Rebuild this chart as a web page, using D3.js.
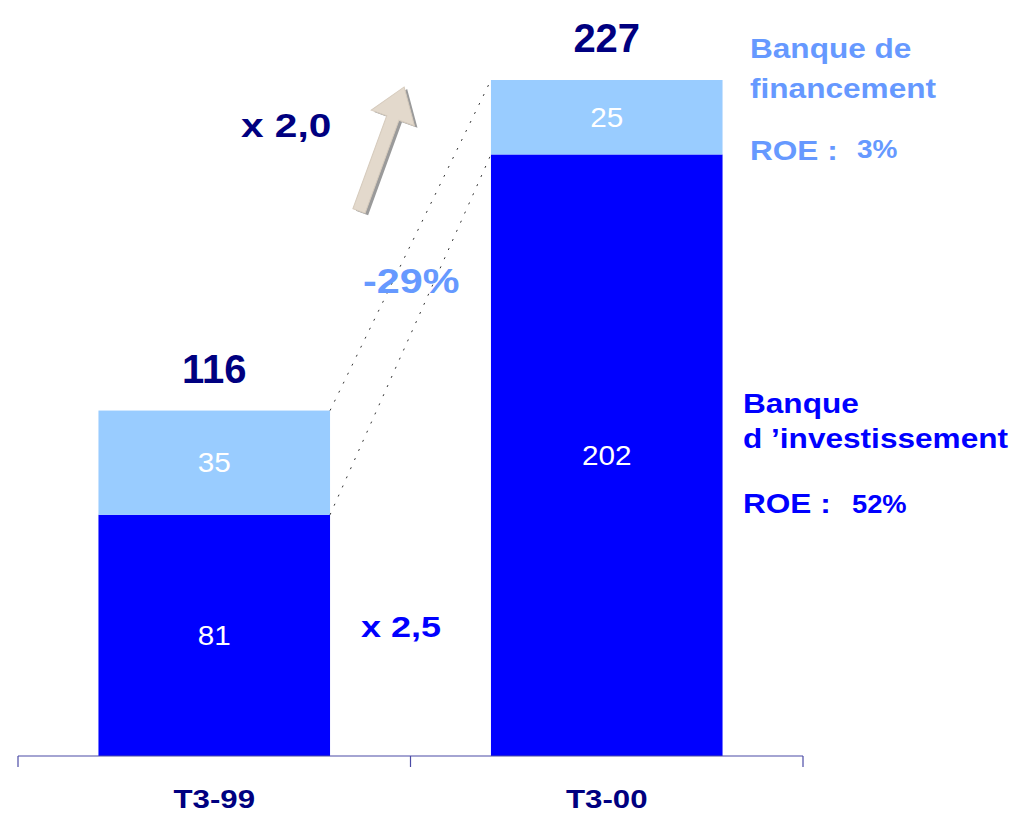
<!DOCTYPE html>
<html>
<head>
<meta charset="utf-8">
<script src="https://cdn.jsdelivr.net/npm/d3@7"></script>
<style>
  body { margin: 0; background: #fff; }
  svg { display: block; font-family: "Liberation Sans", Arial, sans-serif; }
</style>
</head>
<body>
<div id="chart"></div>
<script>
var width = 1015, height = 816;

var periods = ["T3-99", "T3-00"];
var investissement = [81, 202];
var financement = [35, 25];
var totals = [116, 227];

var darkBlue = "#0000ff", lightBlue = "#99ccff", navy = "#000080", midBlue = "#6699ff";

var svg = d3.select("#chart").append("svg")
    .attr("width", width)
    .attr("height", height);

var x = d3.scaleBand()
    .domain(periods)
    .range([18, 803])
    .padding(0);
var barW = x.bandwidth() * 0.59;

var y = d3.scaleLinear()
    .domain([0, 227])
    .range([756, 80]);

var stackData = periods.map((p, i) => ({period: p, inv: investissement[i], fin: financement[i], total: totals[i]}));
var series = d3.stack().keys(["inv", "fin"])(stackData);
var colors = {inv: darkBlue, fin: lightBlue};

// bars
svg.selectAll(".layer")
    .data(series)
    .enter().append("g")
    .attr("class", "layer")
    .attr("fill", d => colors[d.key])
    .selectAll("rect")
    .data(d => d)
    .enter().append("rect")
    .attr("x", d => x(d.data.period) + (x.bandwidth() - barW) / 2)
    .attr("width", barW)
    .attr("y", d => y(d[1]))
    .attr("height", d => y(d[0]) - y(d[1]));

// values inside the bars
svg.selectAll(".layer").selectAll(".val")
    .data(d => d.map(v => ({v: v, key: d.key})))
    .enter().append("text")
    .attr("class", "val")
    .attr("transform", d => "translate(" + (x(d.v.data.period) + x.bandwidth() / 2) + "," + (y(d.v[0]) + y(d.v[1])) / 2 + ") scale(1.1,1)")
    .attr("dy", "0.36em")
    .attr("text-anchor", "middle")
    .style("fill", "#fff")
    .style("font-size", "27px")
    .text(d => d.v.data[d.key]);

// totals
svg.selectAll(".total")
    .data(stackData)
    .enter().append("text")
    .attr("class", "total")
    .attr("x", d => x(d.period) + x.bandwidth() / 2)
    .attr("y", d => y(d.total) - 28)
    .attr("text-anchor", "middle")
    .style("fill", navy)
    .style("font-size", "40px")
    .style("font-weight", "bold")
    .text(d => d.total);

// dotted connectors
var rightEdge0 = x(periods[0]) + (x.bandwidth() + barW) / 2;
var leftEdge1 = x(periods[1]) + (x.bandwidth() - barW) / 2;
[[totals[0], totals[1]], [investissement[0], investissement[1]]].forEach(p => {
  svg.append("line")
    .attr("x1", rightEdge0).attr("y1", y(p[0]))
    .attr("x2", leftEdge1).attr("y2", y(p[1]))
    .attr("stroke", "#333")
    .attr("stroke-width", 1)
    .attr("stroke-dasharray", "2,8");
});

// x axis
var xAxis = d3.axisBottom(x).tickSize(0).tickPadding(34);
var gx = svg.append("g")
    .attr("transform", "translate(0,756)")
    .call(xAxis);
gx.select(".domain").remove();
gx.selectAll("text")
    .attr("transform", "scale(1.2,1)")
    .style("font-family", "'Liberation Sans Narrow', 'Liberation Sans', Arial, sans-serif")
    .style("font-size", "26px")
    .style("font-weight", "bold")
    .style("fill", navy);
gx.append("line")
    .attr("x1", 18).attr("x2", 803)
    .attr("stroke", "#4b4ba6").attr("stroke-width", 1.2);
gx.selectAll(".bound")
    .data([18, x(periods[1]), 803])
    .enter().append("line")
    .attr("class", "bound")
    .attr("x1", d => d).attr("x2", d => d)
    .attr("y1", 0).attr("y2", 11)
    .attr("stroke", "#4b4ba6").attr("stroke-width", 1.2);

// arrow
var arrow = "M-6.5,0 L-6.5,-99 L-23,-99 L0,-132 L23,-99 L6.5,-99 L6.5,0 Z";
svg.append("path")
    .attr("d", arrow)
    .attr("transform", "translate(362,213) rotate(20)")
    .attr("fill", "#9a9a9a");
svg.append("path")
    .attr("d", arrow)
    .attr("transform", "translate(359,211) rotate(20)")
    .attr("fill", "#e3d9cc")
    .attr("stroke", "#d6cbbd")
    .attr("stroke-width", 1);

// annotations (text in the original is slightly stretched horizontally)
function label(txt, px, py, size, color, sx) {
  svg.append("text")
    .attr("transform", "translate(" + px + "," + py + ") scale(" + sx + ",1)")
    .style("font-size", size + "px")
    .style("font-weight", "bold")
    .style("fill", color)
    .text(txt);
}
label("x 2,0", 241, 137, 33, navy, 1.23);
label("-29%", 363, 293, 35, midBlue, 1.18);
label("x 2,5", 361, 637, 30, darkBlue, 1.2);

label("Banque de", 750, 58, 27, midBlue, 1.17);
label("financement", 750, 98, 27, midBlue, 1.17);
label("ROE :", 750, 160, 27, midBlue, 1.17);
label("3%", 857, 158, 25, midBlue, 1.12);

label("Banque", 743, 413, 27, darkBlue, 1.17);
label("d \u2019investissement", 743, 448, 27, darkBlue, 1.17);
label("ROE :", 743, 513, 27, darkBlue, 1.17);
label("52%", 852, 513, 26, darkBlue, 1.05);
</script>
</body>
</html>
